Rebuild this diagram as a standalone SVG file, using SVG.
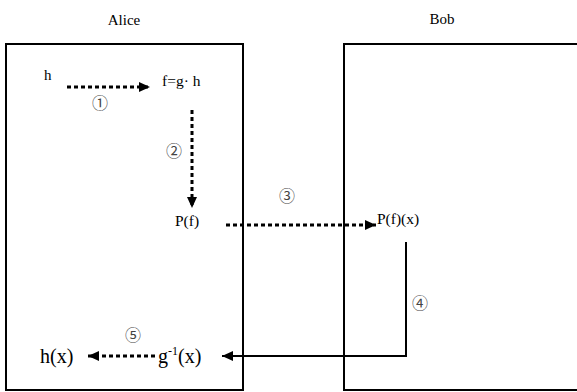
<svg xmlns="http://www.w3.org/2000/svg" width="577" height="392" viewBox="0 0 577 392">
<style>
.box{fill:none;stroke:#000;stroke-width:2}
.t{font-family:"Liberation Serif","Times New Roman",serif;fill:#000}
.c{font-family:"Liberation Serif","Noto Sans CJK SC",serif;fill:#444;font-size:16px}
.dot{fill:none;stroke:#000;stroke-width:3;stroke-dasharray:4 3}
.sol{fill:none;stroke:#000;stroke-width:2}
</style>
<defs>
<marker id="ah" markerUnits="userSpaceOnUse" markerWidth="12" markerHeight="10" refX="11" refY="5" orient="auto">
<path d="M0,0 L11,5 L0,10 Z" fill="#000"/>
</marker>
</defs>
<rect width="577" height="392" fill="#fff"/>
<g id="alice">
<rect class="box" x="6" y="44" width="237" height="346"/>
<text class="t" x="124" y="25" font-size="15" text-anchor="middle">Alice</text>
</g>
<g id="bob">
<path class="box" d="M580,44 H344 V390 H580"/>
<text class="t" x="442" y="24" font-size="15" text-anchor="middle">Bob</text>
</g>
<g id="n-h"><text class="t" x="44" y="80" font-size="15">h</text></g>
<g id="n-f"><text class="t" x="162" y="86" font-size="15.5">f=g· h</text></g>
<g id="n-pf"><text class="t" x="175" y="226" font-size="15.5">P(f)</text></g>
<g id="n-pfx"><text class="t" x="377" y="224" font-size="15.5">P(f)(x)</text></g>
<g id="n-hx"><text class="t" x="40" y="363" font-size="20">h(x)</text></g>
<g id="n-ginv"><text class="t" x="158" y="363" font-size="20">g<tspan font-size="12" dy="-8">-1</tspan><tspan dy="8">(x)</tspan></text></g>
<g id="connectors">
<line class="dot" x1="67" y1="87" x2="150" y2="87" marker-end="url(#ah)"/>
<line class="dot" x1="192" y1="110" x2="192" y2="208" marker-end="url(#ah)"/>
<line class="dot" x1="226" y1="225" x2="376" y2="225" marker-end="url(#ah)"/>
<path class="sol" d="M406,242 V356 H222" marker-end="url(#ah)"/>
<line class="dot" x1="155" y1="356" x2="88" y2="356" marker-end="url(#ah)"/>
</g>
<g id="labels">
<text class="c" x="100" y="109" text-anchor="middle">①</text>
<text class="c" x="174" y="157" text-anchor="middle">②</text>
<text class="c" x="287" y="202" text-anchor="middle">③</text>
<text class="c" x="420" y="309" text-anchor="middle">④</text>
<text class="c" x="133" y="341" text-anchor="middle">⑤</text>
</g>
</svg>
